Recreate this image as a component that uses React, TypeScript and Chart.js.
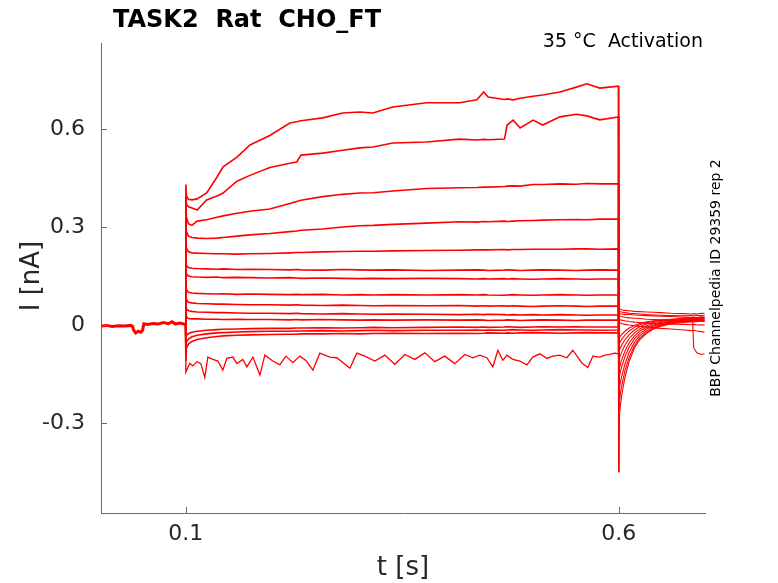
import { useEffect, useRef } from "react"
import Chart from "chart.js/auto"

const TITLE = "TASK2  Rat  CHO_FT"
const CONDITION = "35 °C  Activation"
const SOURCE = "BBP Channelpedia ID 29359 rep 2"
const X_LABEL = "t [s]"
const Y_LABEL = "I [nA]"

const xTickValues = [0.1, 0.6]
const xTickLabels = ["0.1", "0.6"]
const yTickValues = [-0.3, 0, 0.3, 0.6]
const yTickLabels = ["-0.3", "0", "0.3", "0.6"]

const TRACE_COLOR = "#ff0000"
const AXIS_COLOR = "#6a6a6a"
const TEXT_COLOR = "#262626"

// holding baseline before the step (all sweeps overlap here)
const preTimes = [0.002, 0.008, 0.015, 0.022, 0.03, 0.036, 0.0385, 0.0395, 0.042, 0.045, 0.048, 0.05, 0.0515, 0.056, 0.062, 0.068, 0.074, 0.08, 0.084, 0.088, 0.093, 0.0995]
const preValues = [-0.003, -0.001, -0.004, -0.002, -0.003, -0.001, -0.004, -0.015, -0.024, -0.019, -0.022, -0.016, 0.004, 0.002, 0.005, 0.003, 0.008, 0.004, 0.01, 0.003, 0.006, 0.002]

// test pulse, shared time grid
const stepTimes = [0.1, 0.1006, 0.103, 0.107, 0.113, 0.124, 0.136, 0.143, 0.159, 0.174, 0.197, 0.22, 0.228, 0.233, 0.258, 0.281, 0.301, 0.316, 0.339, 0.378, 0.416, 0.436, 0.444, 0.449, 0.468, 0.471, 0.478, 0.486, 0.501, 0.512, 0.532, 0.551, 0.563, 0.578, 0.5995]

const step1 = [0.43, 0.395, 0.385, 0.383, 0.386, 0.404, 0.453, 0.484, 0.514, 0.551, 0.58, 0.618, 0.622, 0.625, 0.634, 0.649, 0.652, 0.649, 0.667, 0.68, 0.68, 0.689, 0.713, 0.698, 0.69, 0.692, 0.689, 0.694, 0.7, 0.704, 0.713, 0.728, 0.738, 0.725, 0.731]
const step2 = [0.4, 0.37, 0.362, 0.358, 0.352, 0.383, 0.395, 0.404, 0.44, 0.458, 0.482, 0.495, 0.499, 0.52, 0.526, 0.535, 0.542, 0.545, 0.557, 0.56, 0.569, 0.566, 0.568, 0.567, 0.569, 0.612, 0.627, 0.603, 0.627, 0.612, 0.637, 0.645, 0.64, 0.628, 0.637]
const step3 = [0.37, 0.33, 0.31, 0.305, 0.318, 0.322, 0.33, 0.334, 0.342, 0.348, 0.355, 0.372, 0.378, 0.382, 0.393, 0.4, 0.404, 0.405, 0.41, 0.418, 0.42, 0.421, 0.422, 0.422, 0.424, 0.425, 0.426, 0.425, 0.43, 0.43, 0.432, 0.431, 0.433, 0.432, 0.432]
const step4 = [0.32, 0.285, 0.272, 0.268, 0.266, 0.265, 0.266, 0.268, 0.272, 0.276, 0.28, 0.286, 0.288, 0.29, 0.294, 0.3, 0.304, 0.305, 0.308, 0.312, 0.316, 0.315, 0.317, 0.316, 0.318, 0.317, 0.318, 0.319, 0.32, 0.321, 0.322, 0.323, 0.322, 0.324, 0.324]
const step5 = [0.27, 0.235, 0.224, 0.221, 0.22, 0.219, 0.218, 0.218, 0.217, 0.218, 0.219, 0.221, 0.222, 0.222, 0.224, 0.225, 0.226, 0.226, 0.227, 0.228, 0.229, 0.23, 0.23, 0.23, 0.231, 0.23, 0.231, 0.231, 0.232, 0.232, 0.232, 0.233, 0.233, 0.232, 0.233]
const step6 = [0.21, 0.182, 0.176, 0.174, 0.173, 0.172, 0.171, 0.172, 0.17, 0.171, 0.17, 0.169, 0.17, 0.169, 0.168, 0.17, 0.169, 0.168, 0.169, 0.167, 0.168, 0.169, 0.168, 0.167, 0.168, 0.169, 0.168, 0.167, 0.168, 0.169, 0.168, 0.167, 0.168, 0.169, 0.168]
const step7 = [0.18, 0.156, 0.15, 0.148, 0.147, 0.146, 0.147, 0.145, 0.146, 0.145, 0.144, 0.145, 0.144, 0.143, 0.144, 0.143, 0.142, 0.143, 0.142, 0.143, 0.142, 0.141, 0.142, 0.141, 0.142, 0.141, 0.142, 0.141, 0.14, 0.141, 0.142, 0.141, 0.14, 0.141, 0.141]
const step8 = [0.14, 0.108, 0.1, 0.098, 0.097, 0.096, 0.095, 0.096, 0.094, 0.095, 0.094, 0.093, 0.094, 0.093, 0.094, 0.092, 0.093, 0.092, 0.093, 0.092, 0.093, 0.092, 0.093, 0.092, 0.091, 0.092, 0.093, 0.092, 0.091, 0.092, 0.093, 0.092, 0.091, 0.092, 0.092]
const step9 = [0.11, 0.078, 0.07, 0.068, 0.066, 0.065, 0.064, 0.064, 0.063, 0.062, 0.062, 0.061, 0.062, 0.061, 0.06, 0.061, 0.06, 0.059, 0.06, 0.059, 0.06, 0.058, 0.059, 0.058, 0.059, 0.058, 0.059, 0.058, 0.057, 0.058, 0.059, 0.058, 0.057, 0.058, 0.058]
const step10 = [0.08, 0.05, 0.044, 0.042, 0.04, 0.039, 0.038, 0.038, 0.037, 0.036, 0.036, 0.035, 0.036, 0.035, 0.034, 0.035, 0.034, 0.033, 0.034, 0.033, 0.032, 0.033, 0.032, 0.033, 0.032, 0.031, 0.032, 0.031, 0.032, 0.031, 0.032, 0.031, 0.03, 0.031, 0.031]
const step11 = [0.05, 0.025, 0.02, 0.019, 0.019, 0.018, 0.018, 0.017, 0.018, 0.017, 0.017, 0.016, 0.017, 0.016, 0.017, 0.016, 0.015, 0.016, 0.015, 0.016, 0.015, 0.016, 0.015, 0.014, 0.015, 0.016, 0.015, 0.014, 0.015, 0.016, 0.015, 0.014, 0.015, 0.015, 0.015]
const step12 = [-0.04, -0.032, -0.026, -0.022, -0.019, -0.016, -0.014, -0.013, -0.012, -0.011, -0.01, -0.01, -0.009, -0.009, -0.008, -0.009, -0.008, -0.007, -0.008, -0.007, -0.006, -0.007, -0.006, -0.007, -0.006, -0.005, -0.006, -0.007, -0.006, -0.005, -0.006, -0.005, -0.006, -0.006, -0.006]
const step13 = [-0.07, -0.052, -0.043, -0.036, -0.031, -0.027, -0.024, -0.023, -0.021, -0.02, -0.019, -0.019, -0.018, -0.018, -0.017, -0.018, -0.017, -0.016, -0.017, -0.016, -0.016, -0.015, -0.016, -0.015, -0.016, -0.015, -0.014, -0.015, -0.016, -0.015, -0.014, -0.015, -0.015, -0.016, -0.015]
const step14 = [-0.11, -0.07, -0.058, -0.05, -0.044, -0.039, -0.035, -0.033, -0.031, -0.03, -0.029, -0.028, -0.028, -0.027, -0.027, -0.026, -0.027, -0.026, -0.025, -0.026, -0.025, -0.026, -0.025, -0.024, -0.025, -0.024, -0.025, -0.024, -0.023, -0.024, -0.025, -0.024, -0.023, -0.024, -0.024]

// the noisy inward sweep has its own time points
const noisyTimes = [0.1, 0.1046, 0.108, 0.1127, 0.1173, 0.1219, 0.1254, 0.1312, 0.137, 0.1427, 0.1473, 0.1543, 0.1589, 0.1658, 0.1704, 0.1774, 0.1855, 0.1912, 0.2005, 0.2085, 0.2155, 0.2236, 0.2316, 0.2386, 0.2467, 0.2547, 0.2663, 0.2744, 0.2894, 0.2975, 0.3067, 0.3182, 0.3298, 0.3413, 0.3529, 0.3644, 0.376, 0.3875, 0.399, 0.4106, 0.4222, 0.4314, 0.4395, 0.4476, 0.4545, 0.4603, 0.466, 0.4707, 0.4776, 0.4857, 0.4938, 0.5007, 0.5088, 0.5169, 0.5238, 0.5319, 0.54, 0.5469, 0.5573, 0.5642, 0.57, 0.5781, 0.5839, 0.5896, 0.5954, 0.5995]
const noisyValues = [-0.144, -0.117, -0.125, -0.112, -0.118, -0.16, -0.098, -0.105, -0.11, -0.138, -0.102, -0.098, -0.118, -0.105, -0.128, -0.098, -0.153, -0.092, -0.11, -0.122, -0.095, -0.115, -0.095, -0.108, -0.138, -0.086, -0.098, -0.1, -0.132, -0.086, -0.095, -0.11, -0.092, -0.12, -0.09, -0.105, -0.085, -0.112, -0.095, -0.118, -0.09, -0.1, -0.092, -0.1, -0.128, -0.077, -0.108, -0.092, -0.105, -0.11, -0.122, -0.098, -0.088, -0.102, -0.095, -0.092, -0.1, -0.077, -0.116, -0.13, -0.095, -0.098, -0.092, -0.09, -0.086, -0.088]

// tail currents after the pulse, shared time grid
const tailTimes = [0.6, 0.6008, 0.603, 0.607, 0.612, 0.618, 0.624, 0.632, 0.64, 0.648, 0.66, 0.675, 0.685, 0.6865, 0.69, 0.695, 0.699]

const tail1 = [-0.45, -0.27, -0.22, -0.16, -0.11, -0.07, -0.045, -0.025, -0.012, -0.004, 0.004, 0.008, 0.01, 0.011, 0.01, 0.012, 0.011]
const tail2 = [-0.26, -0.23, -0.19, -0.14, -0.098, -0.063, -0.04, -0.022, -0.01, -0.002, 0.005, 0.01, 0.012, 0.011, 0.013, 0.012, 0.013]
const tail3 = [-0.22, -0.19, -0.16, -0.12, -0.083, -0.053, -0.033, -0.017, -0.007, 0.0, 0.007, 0.012, 0.014, 0.015, 0.014, 0.016, 0.015]
const tail4 = [-0.18, -0.155, -0.13, -0.097, -0.067, -0.042, -0.026, -0.012, -0.003, 0.003, 0.009, 0.013, 0.015, 0.016, 0.015, 0.017, 0.016]
const tail5 = [-0.15, -0.13, -0.108, -0.08, -0.054, -0.033, -0.019, -0.007, 0.0, 0.005, 0.01, 0.015, 0.017, 0.016, 0.018, 0.017, 0.018]
const tail6 = [-0.12, -0.1, -0.085, -0.062, -0.041, -0.024, -0.012, -0.002, 0.004, 0.008, 0.012, 0.016, 0.018, 0.019, 0.018, 0.02, 0.019]
const tail7 = [-0.09, -0.075, -0.063, -0.045, -0.029, -0.015, -0.005, 0.003, 0.008, 0.011, 0.014, 0.018, 0.02, 0.019, 0.021, 0.02, 0.021]
const tail8 = [-0.065, -0.055, -0.045, -0.031, -0.018, -0.007, 0.001, 0.007, 0.011, 0.014, 0.016, 0.02, 0.022, 0.021, 0.023, 0.022, 0.023]
const tail9 = [-0.045, -0.037, -0.03, -0.019, -0.009, -0.001, 0.005, 0.01, 0.013, 0.015, 0.018, 0.021, 0.023, 0.024, 0.023, 0.025, 0.024]
const tail10 = [0.055, 0.05, 0.047, 0.045, 0.044, 0.042, 0.041, 0.04, 0.039, 0.038, 0.036, 0.035, 0.034, 0.035, 0.034, 0.036, 0.035]
const tail11 = [0.045, 0.042, 0.04, 0.038, 0.036, 0.035, 0.034, 0.032, 0.031, 0.03, 0.029, 0.028, 0.029, 0.028, 0.03, 0.029, 0.028]
const tail12 = [0.03, 0.028, 0.026, 0.024, 0.022, 0.021, 0.02, 0.018, 0.017, 0.016, 0.015, 0.014, 0.013, 0.014, 0.013, 0.012, 0.013]
const tail13 = [0.02, 0.017, 0.015, 0.013, 0.011, 0.009, 0.008, 0.006, 0.005, 0.004, 0.003, 0.002, 0.001, 0.002, 0.0, 0.001, 0.0]
const tail14 = [0.012, 0.008, 0.005, 0.002, 0.0, -0.002, -0.004, -0.006, -0.008, -0.01, -0.012, -0.015, -0.017, -0.016, -0.018, -0.02, -0.022]
const tail15 = [0.035, 0.036, 0.034, 0.032, 0.033, 0.031, 0.03, 0.029, 0.028, 0.027, 0.026, 0.024, 0.022, -0.07, -0.085, -0.09, -0.088]

const stepSweeps = [step1, step2, step3, step4, step5, step6, step7, step8, step9, step10, step11, step12, step13, step14]
const tailSweeps = [tail1, tail2, tail3, tail4, tail5, tail6, tail7, tail8, tail9, tail10, tail11, tail12, tail13, tail14, tail15]

const X_MIN = 0.002
const X_MAX = 0.6995
const Y_MIN = -0.575
const Y_MAX = 0.863

function pts(times: number[], values: number[]) {
	return times.map((t, i) => ({ x: t, y: values[i] }))
}

// last holding sample, so each sweep jumps vertically at the pulse onset
function holdEnd() {
	const i = preTimes.length - 1
	return { x: preTimes[i], y: preValues[i] }
}

// thinner line once the pulse is over (tails are drawn lighter in the original)
const tailSegment = {
	borderWidth: (c: any) => (c.p0.parsed.x >= 0.6 ? 1.1 : undefined),
}

function buildDatasets() {
	const sets: any[] = []
	sets.push({
		data: pts(preTimes, preValues),
		borderColor: TRACE_COLOR,
		borderWidth: 3,
	})
	stepSweeps.forEach((vals, i) => {
		sets.push({
			data: [holdEnd(), ...pts(stepTimes, vals), ...pts(tailTimes, tailSweeps[i])],
			borderColor: TRACE_COLOR,
			borderWidth: 1.6,
			segment: tailSegment,
		})
	})
	sets.push({
		data: [holdEnd(), ...pts(noisyTimes, noisyValues), ...pts(tailTimes, tail15)],
		borderColor: TRACE_COLOR,
		borderWidth: 1.3,
		segment: tailSegment,
	})
	return sets
}

const overlay = {
	id: "overlay",
	afterDraw(chart: any) {
		const ctx = chart.ctx as CanvasRenderingContext2D
		const { left, bottom } = chart.chartArea
		const xs = chart.scales.x
		const ys = chart.scales.y
		ctx.save()
		// inward ticks, matlab style
		ctx.strokeStyle = AXIS_COLOR
		ctx.lineWidth = 1
		for (const v of xTickValues) {
			const px = Math.round(xs.getPixelForValue(v)) + 0.5
			ctx.beginPath()
			ctx.moveTo(px, bottom)
			ctx.lineTo(px, bottom - 6)
			ctx.stroke()
		}
		for (const v of yTickValues) {
			const py = Math.round(ys.getPixelForValue(v)) + 0.5
			ctx.beginPath()
			ctx.moveTo(left, py)
			ctx.lineTo(left + 6, py)
			ctx.stroke()
		}

		ctx.fillStyle = "#000"
		ctx.font = "bold 24px 'DejaVu Sans'"
		ctx.textAlign = "left"
		ctx.textBaseline = "alphabetic"
		ctx.fillText(TITLE, 113, 27)

		ctx.font = "19px 'DejaVu Sans'"
		ctx.textAlign = "right"
		ctx.fillText(CONDITION, 703, 47)

		ctx.fillStyle = TEXT_COLOR
		ctx.font = "26px 'DejaVu Sans'"
		ctx.textAlign = "center"
		ctx.fillText(X_LABEL, 403, 575)

		ctx.save()
		ctx.translate(39, 276)
		ctx.rotate(-Math.PI / 2)
		ctx.fillText(Y_LABEL, 0, 0)
		ctx.restore()

		ctx.fillStyle = "#000"
		ctx.save()
		ctx.translate(720, 278)
		ctx.rotate(-Math.PI / 2)
		ctx.font = "14px 'DejaVu Sans'"
		ctx.fillText(SOURCE, 0, 0)
		ctx.restore()

		ctx.restore()
	},
}

export default function App() {
	const canvasRef = useRef<HTMLCanvasElement>(null)

	useEffect(() => {
		if (!canvasRef.current) return
		const ctx = canvasRef.current.getContext("2d")
		if (!ctx) return

		const chart = new Chart(ctx, {
			type: "line",
			data: { datasets: buildDatasets() },
			options: {
				animation: false,
				responsive: false,
				maintainAspectRatio: false,
				layout: { padding: { left: 0, top: 43, right: 73, bottom: 0 } },
				elements: { point: { radius: 0 }, line: { tension: 0 } },
				plugins: { legend: { display: false }, tooltip: { enabled: false }, title: { display: false } },
				scales: {
					x: {
						type: "linear",
						min: X_MIN,
						max: X_MAX,
						grid: { display: false, drawTicks: false },
						border: { display: true, color: AXIS_COLOR, width: 1 },
						afterBuildTicks: (s: any) => {
							s.ticks = xTickValues.map((v) => ({ value: v }))
						},
						afterFit: (s: any) => {
							s.height = 70
						},
						ticks: {
							padding: 8,
							color: TEXT_COLOR,
							font: { family: "DejaVu Sans", size: 22 },
							maxRotation: 0,
							callback: (v: any) => xTickLabels[xTickValues.indexOf(Number(v))] ?? "",
						},
					},
					y: {
						type: "linear",
						min: Y_MIN,
						max: Y_MAX,
						grid: { display: false, drawTicks: false },
						border: { display: true, color: AXIS_COLOR, width: 1 },
						afterBuildTicks: (s: any) => {
							s.ticks = yTickValues.map((v) => ({ value: v }))
						},
						afterFit: (s: any) => {
							s.width = 101
						},
						ticks: {
							padding: 16,
							color: TEXT_COLOR,
							font: { family: "DejaVu Sans", size: 22 },
							callback: (v: any) => yTickLabels[yTickValues.indexOf(Number(v))] ?? "",
						},
					},
				},
			},
			plugins: [overlay],
		})

		return () => {
			chart.destroy()
		}
	}, [])

	return (
		<div style={{ position: "absolute", left: 0, top: 0, width: 778, height: 583, background: "#fff" }}>
			<canvas ref={canvasRef} width={778} height={583} style={{ width: 778, height: 583 }} />
		</div>
	)
}
